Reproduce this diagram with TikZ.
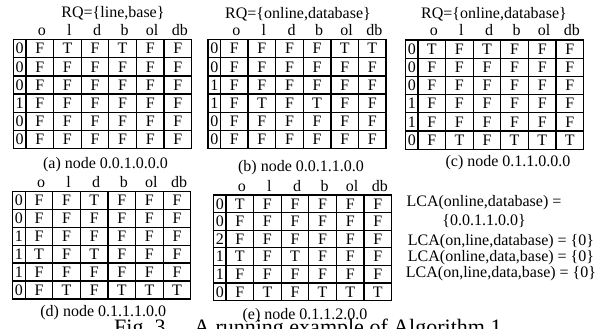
\documentclass[tikz,border=0pt]{standalone}
\usepackage{fontspec}
\setmainfont{Liberation Serif}
\tikzset{
  gridline/.style={line width=1.3pt, black},
  cell/.style={inner sep=0pt, font=\fontsize{16}{18}\selectfont},
  colhead/.style={inner sep=0pt, anchor=base, font=\fontsize{16}{18}\selectfont},
  subcap/.style={inner sep=0pt, anchor=base, font=\fontsize{16}{18}\selectfont},
  plain/.style={inner sep=0pt, anchor=base, font=\fontsize{16}{18}\selectfont},
  figcap/.style={inner sep=0pt, anchor=base west, font=\fontsize{22}{24}\selectfont},
}
% flag table: #1 name, #2 left, #3 top, #4 row height, #5 rows (label/o/l/d/b/ol/db)
\newcommand\flagtable[5]{%
  \begin{scope}[shift={(#2,#3)}]
    \draw[gridline] (0,0) rectangle (178.1,{6*#4});
    \foreach \k in {1,...,5} \draw[gridline] (0,{\k*#4}) -- (178.1,{\k*#4});
    \foreach \k in {0,...,5} \draw[gridline] ({12.5+27.6*\k},0) -- ({12.5+27.6*\k},{6*#4});
    \foreach \h [count=\k] in {o,l,d,b,ol,db}
      \node[colhead] (#1-h\k) at ({14.5+27.6*(\k-0.5)},-4) {\h};
    \foreach \lab/\ca/\cb/\cc/\cd/\ce/\cf [count=\j] in {#5} {
      \node[cell] (#1-\j-0) at (6.25,{(\j-0.5)*#4}) {\lab};
      \foreach \v [count=\k] in {\ca,\cb,\cc,\cd,\ce,\cf}
        \node[cell] (#1-\j-\k) at ({12.5+27.6*(\k-0.5)},{(\j-0.5)*#4}) {\v};
    }
  \end{scope}}
\begin{document}
\begin{tikzpicture}[x=1pt,y=-1pt]
\useasboundingbox (0,0) rectangle (605,329);
\fill[white] (0,0) rectangle (605,329);

% top row
\node[plain] (rq-a) at (113,18) {RQ=\{line,base\}};
\node[plain] (rq-b) at (298,18.5) {RQ=\{online,database\}};
\node[plain] (rq-c) at (494,19) {RQ=\{online,database\}};

\flagtable{ta}{13.5}{39.5}{18.2}{0/F/T/F/T/F/F, 0/F/F/F/F/F/F, 0/F/F/F/F/F/F,
  1/F/F/F/F/F/F, 0/F/F/F/F/F/F, 0/F/F/F/F/F/F}
\flagtable{tb}{208}{39.5}{18.2}{0/F/F/F/F/T/T, 0/F/F/F/F/F/F, 1/F/F/F/F/F/F,
  1/F/T/F/T/F/F, 0/F/F/F/F/F/F, 0/F/F/F/F/F/F}
\flagtable{tc}{405.5}{40}{18.2}{0/T/F/T/F/F/F, 0/F/F/F/F/F/F, 0/F/F/F/F/F/F,
  1/F/F/F/F/F/F, 1/F/F/F/F/F/F, 0/F/T/F/T/T/T}

\node[subcap] (cap-a) at (105.5,168) {(a) node 0.0.1.0.0.0};
\node[subcap] (cap-b) at (301,171) {(b) node 0.0.1.1.0.0};
\node[subcap] (cap-c) at (508,166) {(c) node 0.1.1.0.0.0};

% bottom row
\flagtable{td}{12.7}{191.5}{17.9}{0/F/F/T/F/F/F, 0/F/F/F/F/F/F, 1/F/F/F/F/F/F,
  1/T/F/T/F/F/F, 1/F/F/F/F/F/F, 0/F/T/F/T/T/T}
\flagtable{te}{213.5}{195}{17.6}{0/T/F/F/F/F/F, 0/F/F/F/F/F/F, 2/F/F/F/F/F/F,
  1/T/F/T/F/F/F, 1/F/F/F/F/F/F, 0/F/T/F/T/T/T}

\node[subcap] (cap-d) at (103.3,316) {(d) node 0.1.1.1.0.0};
\node[subcap] (cap-e) at (305,319) {(e) node 0.1.1.2.0.0};

% LCA results
\node[plain] (lca1) at (484,206) {LCA(online,database) =};
\node[plain] (lca1b) at (484,225) {\{0.0.1.1.0.0\}};
\node[plain] (lca2) at (501,245) {LCA(on,line,database) = \{0\}};
\node[plain] (lca3) at (501,261) {LCA(online,data,base) = \{0\}};
\node[plain] (lca4) at (501,277) {LCA(on,line,data,base) = \{0\}};

% figure caption
\node[figcap] (fig) at (114,334) {Fig.~3.\hspace{1.05em}A running example of Algorithm 1.};
\end{tikzpicture}
\end{document}
